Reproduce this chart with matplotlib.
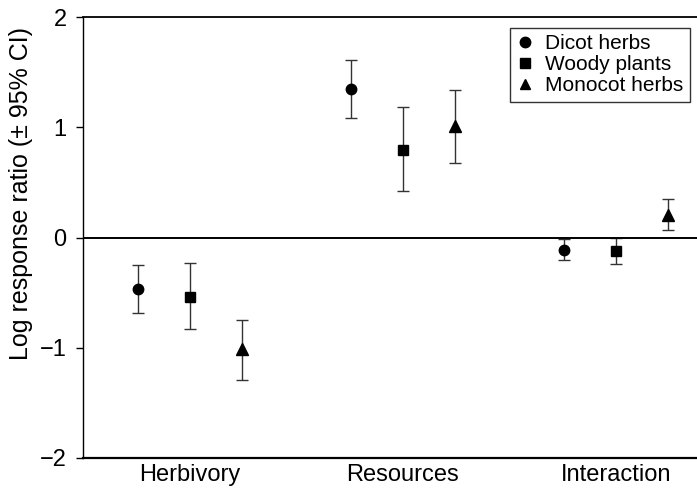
import numpy as np
import matplotlib.pyplot as plt
from matplotlib.lines import Line2D

plt.rcParams['font.family'] = ['Liberation Sans', 'DejaVu Sans']

categories = ['Herbivory', 'Resources', 'Interaction']
groups = ['Dicot herbs', 'Woody plants', 'Monocot herbs']
markers = ['o', 's', '^']

# mean, lower CI, upper CI per group (rows) and category (columns)
means = [[-0.47, 1.35, -0.11],
         [-0.54, 0.80, -0.12],
         [-1.01, 1.01, 0.21]]
lower = [[-0.68, 1.09, -0.20],
         [-0.83, 0.42, -0.24],
         [-1.29, 0.68, 0.07]]
upper = [[-0.25, 1.61, -0.01],
         [-0.23, 1.19, 0.00],
         [-0.75, 1.34, 0.35]]
offsets = [-0.245, 0.0, 0.245]

fig = plt.figure(figsize=(6.97, 4.88), dpi=100)
ax = fig.add_axes([0.1195, 0.0615, 0.8805, 0.9030])

x = np.arange(1, len(categories) + 1)
for i in range(3):
    m = np.array(means[i])
    err = [m - np.array(lower[i]), np.array(upper[i]) - m]
    ax.errorbar(x + offsets[i], m, yerr=err, fmt=markers[i], color='black',
                ecolor='#333333', elinewidth=1, capsize=4, capthick=1,
                markersize=8.5 if i == 2 else 7.5)

ax.axhline(0, color='black', lw=1.4)
ax.set_xlim(0.5, 3.38)
ax.set_ylim(-2, 2)
ax.set_yticks([-2, -1, 0, 1, 2])
ax.set_yticklabels(['\u22122', '\u22121', '0', '1', '2'])
ax.set_xticks(x)
ax.set_xticklabels(categories)
ax.tick_params(axis='x', length=0, labelsize=17, pad=4)
ax.tick_params(axis='y', length=5, width=1, labelsize=17, direction='out', pad=7)
ax.spines['right'].set_visible(False)
ax.spines['left'].set_linewidth(1)
ax.spines['top'].set_linewidth(1.3)
ax.spines['bottom'].set_linewidth(1.6)
ax.set_ylabel('Log response ratio (\u00b1 95% CI)', fontsize=18)
ax.yaxis.set_label_coords(-0.082, 0.6)

handles = [Line2D([], [], ls='none', marker=mk, color='black', markersize=7.5)
           for mk in markers]
leg = ax.legend(handles, groups, loc='upper left',
                bbox_to_anchor=(510 / 697, 1 - 28 / 488),
                bbox_transform=fig.transFigure, fontsize=15, frameon=True,
                fancybox=False, edgecolor='black', handlelength=0.8,
                handletextpad=0.6, borderpad=0.3, labelspacing=0.1,
                borderaxespad=0)
leg.get_frame().set_linewidth(1)

fig.savefig('out.png', dpi=100)
